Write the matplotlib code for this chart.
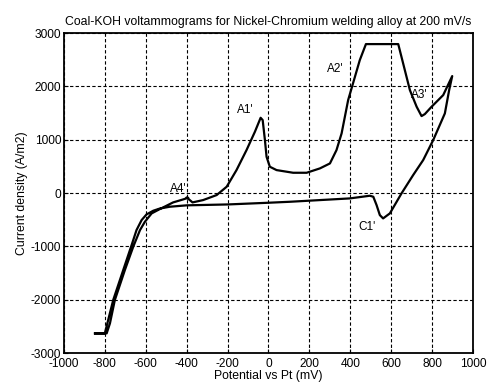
import matplotlib
matplotlib.use('Agg')
import matplotlib.pyplot as plt
from matplotlib.ticker import MultipleLocator

plt.rcParams['font.family'] = ['Liberation Sans', 'DejaVu Sans']
plt.rcParams['axes.unicode_minus'] = False

# Forward (anodic) scan, mV and A/m2
fwdPotential = [-848, -791, -775, -751, -702, -661, -628, -604, -571, -531, -466, -417, -392,
                -400, -371, -319, -253, -204, -156, -107, -66, -38, -28, -17, -9, 7, 40, 121,
                187, 252, 301, 333, 358, 390, 447, 477, 635, 659, 692, 725, 749, 765, 798, 855, 899]
fwdCurrent = [-2631, -2631, -2444, -2006, -1444, -1006, -694, -538, -381, -300, -175, -119, -88,
              -81, -175, -131, -37, 119, 431, 806, 1150, 1412, 1369, 994, 681, 494, 431, 381,
              381, 463, 556, 806, 1119, 1744, 2494, 2794, 2794, 2431, 1931, 1619, 1444, 1481, 1619, 1838, 2194]

# Reverse (cathodic) scan
revPotential = [899, 884, 863, 806, 757, 708, 651, 594, 561, 545, 529, 513, 496, 398, 105, 2,
                -197, -400, -482, -531, -563, -596, -620, -645, -669, -710, -759, -800, -848]
revCurrent = [2194, 1931, 1494, 994, 619, 338, -6, -381, -475, -413, -225, -69, -50, -100, -163, -181,
              -213, -230, -256, -290, -331, -400, -506, -694, -975, -1444, -2006, -2631, -2631]

peakLabels = ["A1'", "A2'", "A3'", "A4'", "C1'"]
peakX = [-115, 325, 736, -443, 482]
peakY = [1556, 2325, 1838, 75, -638]

fig = plt.figure(figsize=(4.88, 3.85), dpi=100)
ax = fig.add_axes([0.131, 0.083, 0.838, 0.831])

ax.plot(fwdPotential + revPotential, fwdCurrent + revCurrent, color='black', linewidth=1.6)

for lab, px, py in zip(peakLabels, peakX, peakY):
    ax.text(px, py, lab, fontsize=8.5, ha='center', va='center')

ax.set(xlim=(-1000, 1000), ylim=(-3000, 3000))
ax.xaxis.set_major_locator(MultipleLocator(200))
ax.yaxis.set_major_locator(MultipleLocator(1000))
ax.grid(True, color='black', linestyle=(0, (3, 2)), linewidth=0.8)
ax.tick_params(direction='in', length=3, labelsize=8.6, pad=2)
ax.tick_params(axis='x', pad=3.5)
for s in ax.spines.values():
    s.set_linewidth(1.3)

ax.set_title('Coal-KOH voltammograms for Nickel-Chromium welding alloy at 200 mV/s', fontsize=8.8, pad=6)
ax.set_xlabel('Potential vs Pt (mV)', fontsize=8.8, labelpad=0)
ax.set_ylabel('Current density (A/m2)', fontsize=8.8, labelpad=2)

fig.savefig('out.png', dpi=100)
